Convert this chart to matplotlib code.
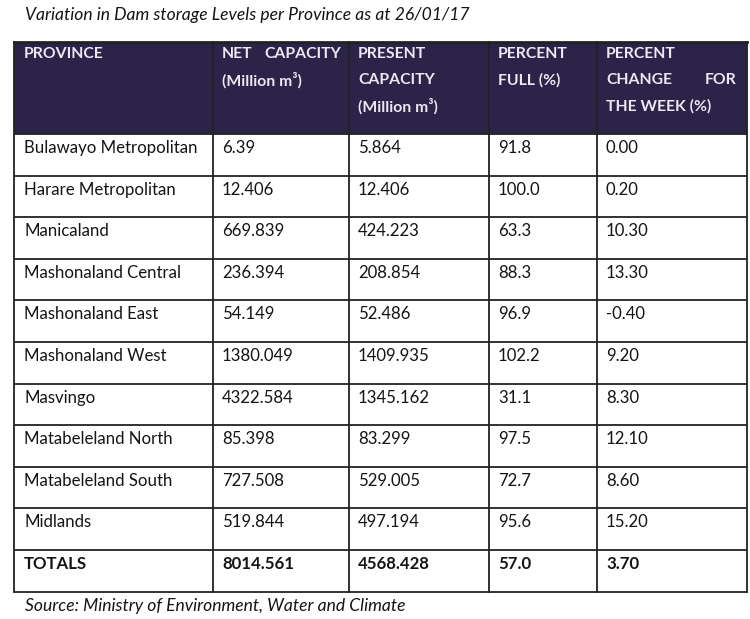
import matplotlib
matplotlib.use("Agg")
import matplotlib.pyplot as plt
from matplotlib.patches import Rectangle

title = "Variation in Dam storage Levels per Province as at 26/01/17"
source = "Source: Ministry of Environment, Water and Climate"

provinces = ["Bulawayo Metropolitan", "Harare Metropolitan", "Manicaland",
             "Mashonaland Central", "Mashonaland East", "Mashonaland West",
             "Masvingo", "Matabeleland North", "Matabeleland South", "Midlands"]
net_capacity = ["6.39", "12.406", "669.839", "236.394", "54.149", "1380.049",
                "4322.584", "85.398", "727.508", "519.844"]
present_capacity = ["5.864", "12.406", "424.223", "208.854", "52.486", "1409.935",
                    "1345.162", "83.299", "529.005", "497.194"]
percent_full = ["91.8", "100.0", "63.3", "88.3", "96.9", "102.2",
                "31.1", "97.5", "72.7", "95.6"]
percent_change = ["0.00", "0.20", "10.30", "13.30", "-0.40", "9.20",
                  "8.30", "12.10", "8.60", "15.20"]
totals = ["TOTALS", "8014.561", "4568.428", "57.0", "3.70"]

W, H = 750, 619
fig = plt.figure(figsize=(W / 100, H / 100), dpi=100)
ax = fig.add_axes([0, 0, 1, 1])
ax.set_xlim(0, W)
ax.set_ylim(H, 0)
ax.axis("off")

FONT = ["Lato", "DejaVu Sans"]
FS = 12.1
HDR_FS = 11.3
text_col = "#141414"
hdr_bg = "#2b2348"
hdr_fg = "#ebe8f2"
line_col = "#222222"

col_x = [14, 213, 349, 489, 597, 747]
pad = 9
hdr_top, hdr_bot = 42, 134
row_h = 41.6
n_rows = len(provinces) + 1
bottom = hdr_bot + row_h * n_rows

# title
ax.text(25, 15, title, fontsize=12.6, style="italic", family=FONT, color=text_col,
        va="center", ha="left")
ax.text(25, 606, source, fontsize=12.6, style="italic", family=FONT, color=text_col,
        va="center", ha="left")

# header background
ax.add_patch(Rectangle((col_x[0], hdr_top), col_x[-1] - col_x[0], hdr_bot - hdr_top,
                       facecolor=hdr_bg, edgecolor="none"))

hl = [54, 80, 106]
def htext(x, y, s, ha="left"):
    ax.text(x, y, s, fontsize=HDR_FS, weight="bold", family=FONT, color=hdr_fg,
            va="center", ha=ha)

htext(col_x[0] + pad + 1, hl[0], "PROVINCE")
htext(col_x[1] + pad, hl[0], "NET")
htext(col_x[2] - 8, hl[0], "CAPACITY", ha="right")
htext(col_x[1] + pad, hl[1], "(Million m\u00b3)")
htext(col_x[2] + pad, hl[0], "PRESENT")
htext(col_x[2] + pad, hl[1], "CAPACITY")
htext(col_x[2] + pad, hl[2], "(Million m\u00b3)")
htext(col_x[3] + pad, hl[0], "PERCENT")
htext(col_x[3] + pad, hl[1], "FULL (%)")
htext(col_x[4] + pad, hl[0], "PERCENT")
htext(col_x[4] + pad, hl[1], "CHANGE")
htext(col_x[5] - 10, hl[1], "FOR", ha="right")
htext(col_x[4] + pad, hl[2], "THE WEEK (%)")

# rows
rows = list(zip(provinces, net_capacity, present_capacity, percent_full, percent_change))
rows.append(tuple(totals))
for i, row in enumerate(rows):
    top = hdr_bot + i * row_h
    bold = (i == len(rows) - 1)
    for j, val in enumerate(row):
        ax.text(col_x[j] + pad + (1 if j == 0 else 0), top + 14, val, fontsize=FS,
                family=FONT, color=text_col,
                weight="bold" if bold else "normal", va="center", ha="left")

# grid lines
lw = 1.3
for i in range(n_rows + 1):
    y = hdr_bot + i * row_h
    ax.plot([col_x[0], col_x[-1]], [y, y], color=line_col, lw=lw, solid_capstyle="butt")
ax.plot([col_x[0], col_x[-1]], [hdr_top, hdr_top], color=line_col, lw=2.0)
for x in col_x:
    ax.plot([x, x], [hdr_top, bottom], color=line_col, lw=lw)

fig.savefig("out.png", dpi=100)
